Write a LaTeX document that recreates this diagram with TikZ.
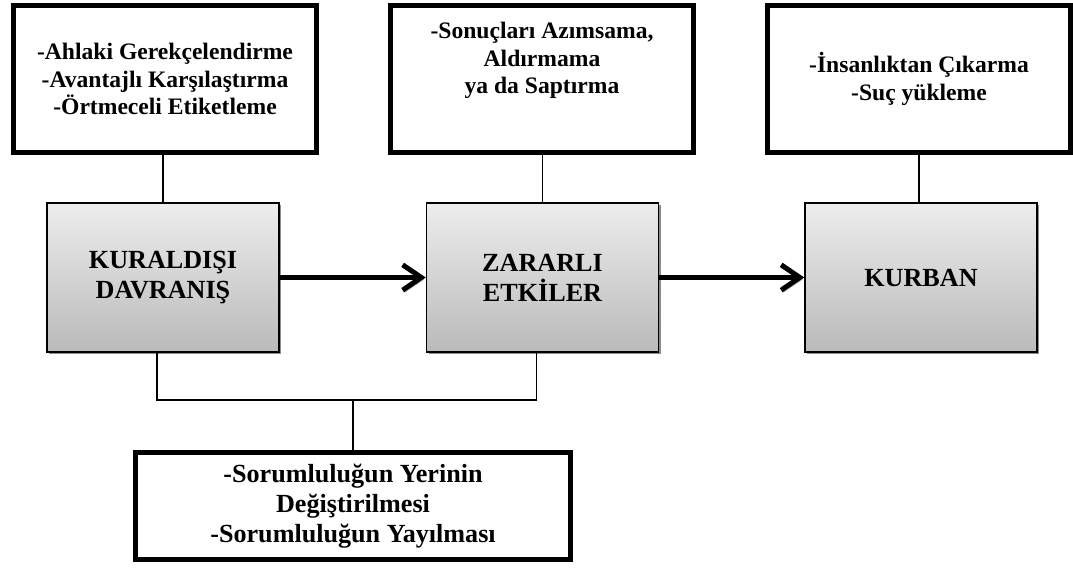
\documentclass[tikz,border=0pt]{standalone}
\usepackage{fontspec}
\setmainfont{Liberation Serif}
\usetikzlibrary{shadows,arrows.meta}

\begin{document}
\begin{tikzpicture}[x=0.75pt,y=-0.75pt]
   \useasboundingbox (0,0) rectangle (1073,570);
   \tikzstyle{note}=[draw=black, line width=3.75pt, minimum width=227pt, minimum height=110pt, align=center, font=\bfseries\fontsize{17.7}{20.6}\selectfont]
   \tikzstyle{stage}=[draw=black, line width=1.1pt, top color=black!7, bottom color=black!27, minimum width=174pt, minimum height=112pt, align=center, font=\bfseries\fontsize{19.6}{22.5}\selectfont, drop shadow={shadow xshift=1.6pt, shadow yshift=-1.6pt, fill=black!45, opacity=1}]
   \tikzstyle{cause}=[draw=black, line width=3.75pt, minimum width=326pt, minimum height=80pt, align=center, font=\bfseries\fontsize{19.6}{22.5}\selectfont]
   \tikzstyle{link}=[draw=black, line width=1.1pt]
   \tikzstyle{flow}=[draw=black, line width=3.75pt, -{Straight Barb[length=14pt,width=19pt]}, preaction={draw=black!40, transform canvas={shift={(1.6pt,-1.6pt)}}}]
   \node[note] (ahlak) at (165,79) {-Ahlaki Gerekçelendirme\\-Avantajlı Karşılaştırma\\-Örtmeceli Etiketleme};
   \node[note] (sonuc) at (542,79) {-Sonuçları Azımsama,\\Aldırmama\\ya da Saptırma\\[11pt]\mbox{}};
   \node[note] (insan) at (919,79) {-İnsanlıktan Çıkarma\\-Suç yükleme};
   \node[stage] (kural) at (163,277.5) {KURALDIŞI\\DAVRANIŞ};
   \node[stage] (zarar) at (542.5,277.5) {ZARARLI\\ETKİLER};
   \node[stage] (kurban) at (921,277.5) {KURBAN};
   \node[cause] (sorum) at (353,506) {-Sorumluluğun Yerinin\\Değiştirilmesi\\-Sorumluluğun Yayılması};
   \coordinate (join) at (353,400);
   \draw[link] (kural.north) -- (kural.north |- ahlak.south);
   \draw[link] (zarar.north) -- (zarar.north |- sonuc.south);
   \draw[link] (insan.south) -- (insan.south |- kurban.north);
   \draw[link] ([xshift=-4.5pt]kural.south) |- (join) -| ([xshift=-4.5pt]zarar.south);
   \draw[link] (join) -- (sorum.north);
   \draw[flow] (kural) -- (zarar);
   \draw[flow] (zarar) -- (kurban);
\end{tikzpicture}
\end{document}
